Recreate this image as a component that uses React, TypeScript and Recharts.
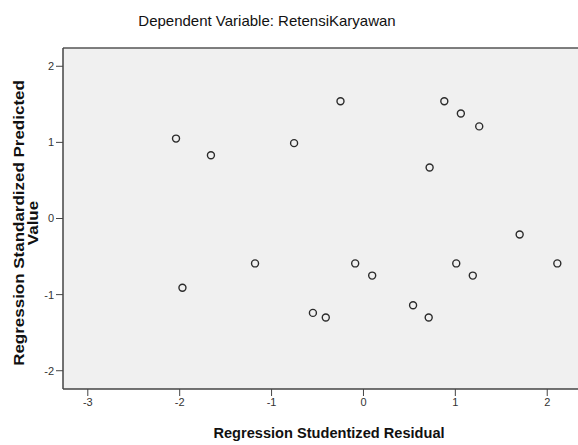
import { ScatterChart, Scatter, XAxis, YAxis, CartesianGrid, ReferenceLine } from 'recharts'

// studentized residuals (x) vs standardized predicted values (y)
const residuals = [
  -2.04, -1.66, -0.755, -0.25, 0.88, 1.06, 1.26, 0.72, 1.7, -1.18,
  -0.09, 0.095, 1.01, 1.19, 2.11, -1.97, -0.55, -0.41, 0.54, 0.71,
]
const predicted = [
  1.05, 0.83, 0.99, 1.54, 1.54, 1.38, 1.21, 0.67, -0.21, -0.59,
  -0.59, -0.75, -0.59, -0.75, -0.59, -0.91, -1.24, -1.3, -1.14, -1.3,
]
const xTicks = [-3, -2, -1, 0, 1, 2]
const yTicks = [-2, -1, 0, 1, 2]

const points = residuals.map((x, i) => ({ x, y: predicted[i] }))

const X_DOMAIN: [number, number] = [-3.27, 2.52]
const Y_DOMAIN: [number, number] = [-2.24, 2.24]

const font = '"Liberation Sans", Arial, sans-serif'
const tickStyle = { fontSize: 11, fill: '#333', fontFamily: font }

function OpenCircle(props: any) {
  const { cx, cy } = props
  return <circle cx={cx} cy={cy} r={3.5} fill="none" stroke="#2b2b2b" strokeWidth={1.4} />
}

export default function App() {
  return (
    <div
      style={{
        position: 'absolute',
        left: 0,
        top: 0,
        width: 578,
        height: 445,
        overflow: 'hidden',
        background: '#fff',
        fontFamily: font,
      }}
    >
      <div
        style={{
          position: 'absolute',
          left: 267,
          top: 20,
          transform: 'translate(-50%, -50%)',
          fontSize: 15,
          color: '#111',
          whiteSpace: 'nowrap',
        }}
      >
        Dependent Variable: RetensiKaryawan
      </div>

      <ScatterChart width={600} height={445} margin={{ top: 48, right: 5, bottom: 0, left: 0 }}>
        <CartesianGrid fill="#f0f0f0" horizontal={false} vertical={false} />
        <XAxis
          type="number"
          dataKey="x"
          domain={X_DOMAIN}
          ticks={xTicks}
          height={56}
          tickSize={7}
          tick={tickStyle}
          axisLine={{ stroke: '#444', strokeWidth: 1.5 }}
          tickLine={{ stroke: '#444' }}
          allowDataOverflow
        />
        <YAxis
          type="number"
          dataKey="y"
          domain={Y_DOMAIN}
          ticks={yTicks}
          width={63}
          tickSize={7}
          tick={tickStyle}
          axisLine={{ stroke: '#444', strokeWidth: 1.5 }}
          tickLine={{ stroke: '#444' }}
          allowDataOverflow
        />
        <ReferenceLine y={Y_DOMAIN[1]} stroke="#555" strokeWidth={1.5} ifOverflow="extendDomain" />
        <Scatter data={points} shape={OpenCircle} isAnimationActive={false} />
      </ScatterChart>

      <div
        style={{
          position: 'absolute',
          left: 329,
          top: 433,
          transform: 'translate(-50%, -50%)',
          fontSize: 14.6,
          fontWeight: 'bold',
          color: '#111',
          whiteSpace: 'nowrap',
        }}
      >
        Regression Studentized Residual
      </div>
      <div
        style={{
          position: 'absolute',
          left: 26,
          top: 223,
          transform: 'translate(-50%, -50%) rotate(-90deg) scaleX(1.17)',
          fontSize: 14.5,
          fontWeight: 'bold',
          color: '#111',
          whiteSpace: 'nowrap',
          textAlign: 'center',
          lineHeight: '13.5px',
        }}
      >
        Regression Standardized Predicted
        <br />
        Value
      </div>
    </div>
  )
}
